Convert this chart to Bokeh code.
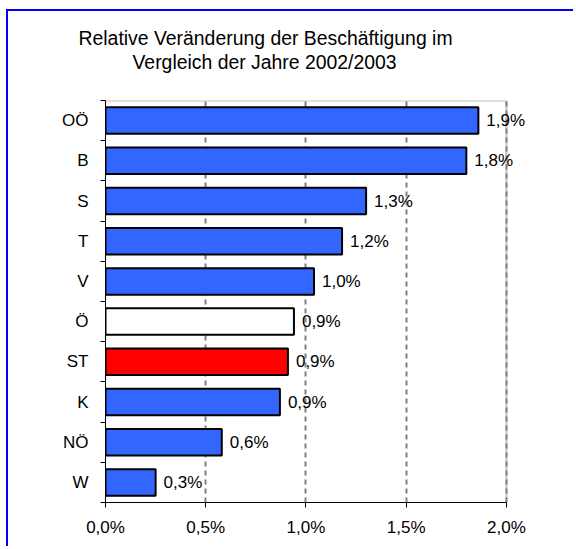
from bokeh.plotting import figure
from bokeh.models import (Range1d, FixedTicker, CustomJSTickFormatter,
                          ColumnDataSource, LabelSet, Title)
from bokeh.embed import file_html
from bokeh.resources import INLINE
from bokeh.core.properties import value

# ---- data ----
categories = ["OÖ", "B", "S", "T", "V", "Ö", "ST", "K", "NÖ", "W"]
changes = [1.86, 1.80, 1.30, 1.18, 1.04, 0.94, 0.91, 0.87, 0.58, 0.25]
value_labels = ["1,9%", "1,8%", "1,3%", "1,2%", "1,0%",
                "0,9%", "0,9%", "0,9%", "0,6%", "0,3%"]
bar_colors = ["#3366FF", "#3366FF", "#3366FF", "#3366FF", "#3366FF",
              "#FFFFFF", "#FF0000", "#3366FF", "#3366FF", "#3366FF"]
x_ticks = [0.0, 0.5, 1.0, 1.5, 2.0]
x_tick_labels = ["0,0%", "0,5%", "1,0%", "1,5%", "2,0%"]
title_lines = ["Relative Veränderung der Beschäftigung im",
               "Vergleich der Jahre 2002/2003"]

FONT = "Liberation Sans"
n = len(categories)
ypos = [n - i - 0.5 for i in range(n)]
x_max = x_ticks[-1]

src = ColumnDataSource(dict(y=ypos, v=changes, lab=value_labels,
                            color=bar_colors, name=categories))

p = figure(width=567, height=537,
           x_range=Range1d(0, 2.15), y_range=Range1d(0, n),
           output_backend="svg", toolbar_location=None,
           min_border_left=97, min_border_right=39,
           min_border_top=89, min_border_bottom=46)
p.title = None
p.styles = {"border-left": "2px solid #0000FF",
            "border-top": "2px solid #0000FF",
            "margin-left": "6px", "margin-top": "9px"}
p.background_fill_color = "white"
p.border_fill_color = "white"
p.outline_line_color = None

# plot-area border (light grey, top and right)
p.segment(x0=[0, x_max], y0=[n, 0], x1=[x_max, x_max], y1=[n, n],
          line_color="#C0C0C0", line_width=2, level="image")

# grid
p.ygrid.grid_line_color = None
p.xgrid.grid_line_color = "#808080"
p.xgrid.grid_line_width = 2
p.xgrid.grid_line_dash = "5 4"

p.hbar(y="y", left=0, right="v", height=0.66, source=src,
       fill_color="color", line_color="black", line_width=2)

p.add_layout(LabelSet(x="v", y="y", text="lab", source=src, x_offset=8,
                      text_baseline="middle", text_align="left",
                      text_font=value(FONT), text_font_size="17px",
                      text_color="black"))

# x axis
xa = p.xaxis[0]
xa.bounds = (0, x_max)
xa.ticker = FixedTicker(ticks=x_ticks)
xa.formatter = CustomJSTickFormatter(
    args=dict(tick_vals=x_ticks, tick_labs=x_tick_labels),
    code="""
    let best = 0, bd = 1e9;
    for (let i = 0; i < tick_vals.length; i++) {
        const d = Math.abs(tick_vals[i] - tick);
        if (d < bd) { bd = d; best = i; }
    }
    return tick_labs[best];
    """)
xa.axis_line_color = "black"
xa.major_tick_line_color = "black"
xa.major_tick_out = 5
xa.major_tick_in = 0
xa.minor_tick_line_color = None
xa.major_label_standoff = 10
xa.major_label_text_font = FONT
xa.major_label_text_font_size = "17px"
xa.major_label_text_color = "black"

# y axis
ya = p.yaxis[0]
ya.ticker = FixedTicker(ticks=ypos, minor_ticks=list(range(n + 1)))
ya.formatter = CustomJSTickFormatter(
    args=dict(names=categories),
    code="""
    const i = Math.round(names.length - 0.5 - tick);
    return names[i];
    """)
ya.axis_line_color = "black"
ya.major_tick_line_color = None
ya.major_tick_out = 0
ya.major_tick_in = 0
ya.minor_tick_line_color = "black"
ya.minor_tick_out = 5
ya.minor_tick_in = 0
ya.major_label_standoff = 12
ya.major_label_text_font = FONT
ya.major_label_text_font_size = "17px"
ya.major_label_text_color = "black"

# two-line title (second line closest to the plot, added first)
p.add_layout(Title(text=title_lines[1], align="left", offset=27,
                   standoff=55, text_font=FONT, text_font_size="19.4px",
                   text_font_style="normal", text_color="black"), "above")
p.add_layout(Title(text=title_lines[0], align="left", offset=-27,
                   standoff=-54, text_font=FONT, text_font_size="19.4px",
                   text_font_style="normal", text_color="black"), "above")

open("out.html", "w").write(file_html(p, INLINE))
